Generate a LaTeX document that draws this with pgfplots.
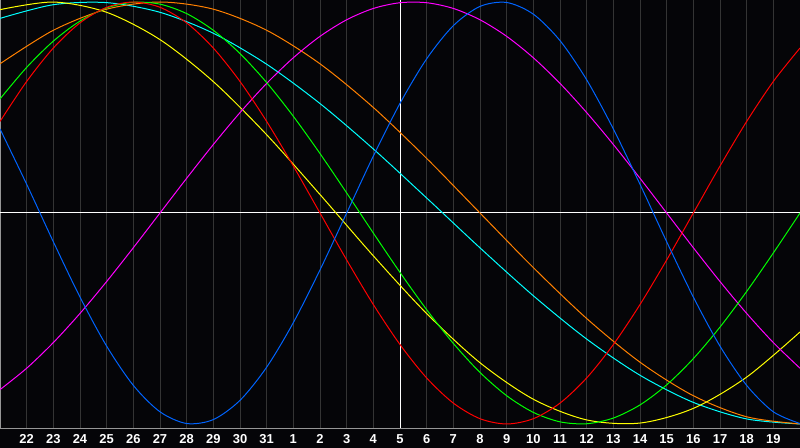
\documentclass[border=0pt]{standalone}
\usepackage{pgfplots}
\pgfplotsset{compat=1.18}
\usepackage{fontspec}
\setmainfont{Liberation Sans}
\definecolor{bg}{RGB}{5,5,8}
\definecolor{gridc}{RGB}{52,52,52}
\definecolor{framec}{RGB}{150,150,150}
\definecolor{cblue}{RGB}{0,100,255}
\definecolor{corange}{RGB}{255,128,0}
\definecolor{cmag}{RGB}{255,0,255}
\definecolor{ccyan}{RGB}{0,255,255}
\definecolor{cyel}{RGB}{255,255,0}
\definecolor{cgreen}{RGB}{0,255,0}
\definecolor{cred}{RGB}{255,0,0}
\begin{document}
\begin{tikzpicture}
\fill[bg] (0,-20bp) rectangle (800bp,428bp);
\path[use as bounding box] (0,-20bp) rectangle (800bp,428bp);
\begin{axis}[
 at={(0,0)}, anchor=south west,
 scale only axis, width=800bp, height=428bp,
 xmin=-15, xmax=15, ymin=-101.9, ymax=100.95,
 axis line style={draw=framec, line width=1bp},
 xtick={-14,...,14},
 xticklabels={22,23,24,25,26,27,28,29,30,31,1,2,3,4,5,6,7,8,9,10,11,12,13,14,15,16,17,18,19},
 ytick=\empty,
 major tick length=0pt,
 xmajorgrids, grid style={gridc, line width=1bp},
 xticklabel style={anchor=center, yshift=-11bp, text=white, font=\bfseries\fontsize{13}{13}\selectfont},
 every axis plot/.append style={line width=1bp, no markers},
 clip=true,
]
\addplot[white, sharp plot] coordinates {(-15,0) (15,0)};
\addplot[white, sharp plot] coordinates {(0,-101.9) (0,100.95)};
% spiritual 53 (cyan)
\addplot[ccyan, smooth] coordinates {
(-15,92.22) (-13,98.72) (-11,99.70) (-9,95.11) (-7,85.18) (-5,70.50) (-3,51.87) (-1,30.34)
(1,7.11) (3,-16.52) (5,-39.22) (7,-59.74) (9,-76.90) (11,-89.76) (13,-97.60) (15,-99.98)};
% awareness 48 (orange)
\addplot[corange, smooth] coordinates {
(-15,70.71) (-13,86.60) (-11,96.59) (-9,100) (-7,96.59) (-5,86.60) (-3,70.71) (-1,50)
(1,25.88) (3,0) (5,-25.88) (7,-50) (9,-70.71) (11,-86.60) (13,-96.59) (15,-100)};
% aesthetic 43 (yellow)
\addplot[cyel, smooth] coordinates {
(-15,96.37) (-13,99.98) (-11,95.11) (-9,82.17) (-7,62.27) (-5,37.09) (-3,8.76) (-1,-20.31)
(1,-47.66) (3,-70.97) (5,-88.26) (7,-98.06) (9,-99.55) (11,-92.60) (13,-77.78) (15,-56.39)};
% intuitive 38 (magenta)
\addplot[cmag, smooth] coordinates {
(-15,-83.72) (-14,-73.57) (-13,-61.42) (-12,-47.59) (-11,-32.47) (-10,-16.46) (-9,0) (-8,16.46)
(-7,32.47) (-6,47.59) (-5,61.42) (-4,73.57) (-3,83.72) (-2,91.58) (-1,96.94) (0,99.66)
(1,99.66) (2,96.94) (3,91.58) (4,83.72) (5,73.57) (6,61.42) (7,47.59) (8,32.47)
(9,16.46) (10,0) (11,-16.46) (12,-32.47) (13,-47.59) (14,-61.42) (15,-73.57)};
% intellectual 33 (green)
\addplot[cgreen, smooth] coordinates {
(-15,54.06) (-14,69.01) (-13,81.46) (-12,90.96) (-11,97.18) (-10,99.89) (-9,98.98) (-8,94.50)
(-7,86.60) (-6,75.57) (-5,61.82) (-4,45.82) (-3,28.17) (-2,9.51) (-1,-9.51) (0,-28.17)
(1,-45.82) (2,-61.82) (3,-75.57) (4,-86.60) (5,-94.50) (6,-98.98) (7,-99.89) (8,-97.18)
(9,-90.96) (10,-81.46) (11,-69.01) (12,-54.06) (13,-37.17) (14,-18.93) (15,0)};
% emotional 28 (red)
\addplot[cred, smooth] coordinates {
(-15,43.39) (-14,62.35) (-13,78.18) (-12,90.10) (-11,97.49) (-10,100) (-9,97.49) (-8,90.10)
(-7,78.18) (-6,62.35) (-5,43.39) (-4,22.25) (-3,0) (-2,-22.25) (-1,-43.39) (0,-62.35)
(1,-78.18) (2,-90.10) (3,-97.49) (4,-100) (5,-97.49) (6,-90.10) (7,-78.18) (8,-62.35)
(9,-43.39) (10,-22.25) (11,0) (12,22.25) (13,43.39) (14,62.35) (15,78.18)};
% physical 23 (blue)
\addplot[cblue, smooth] coordinates {
(-15,39.84) (-14,13.62) (-13,-13.62) (-12,-39.84) (-11,-63.11) (-10,-81.70) (-9,-94.23) (-8,-99.77)
(-7,-97.91) (-6,-88.79) (-5,-73.08) (-4,-51.96) (-3,-26.98) (-2,0) (-1,26.98) (0,51.96)
(1,73.08) (2,88.79) (3,97.91) (4,99.77) (5,94.23) (6,81.70) (7,63.11) (8,39.84)
(9,13.62) (10,-13.62) (11,-39.84) (12,-63.11) (13,-81.70) (14,-94.23) (15,-99.77)};
\end{axis}
\end{tikzpicture}
\end{document}
